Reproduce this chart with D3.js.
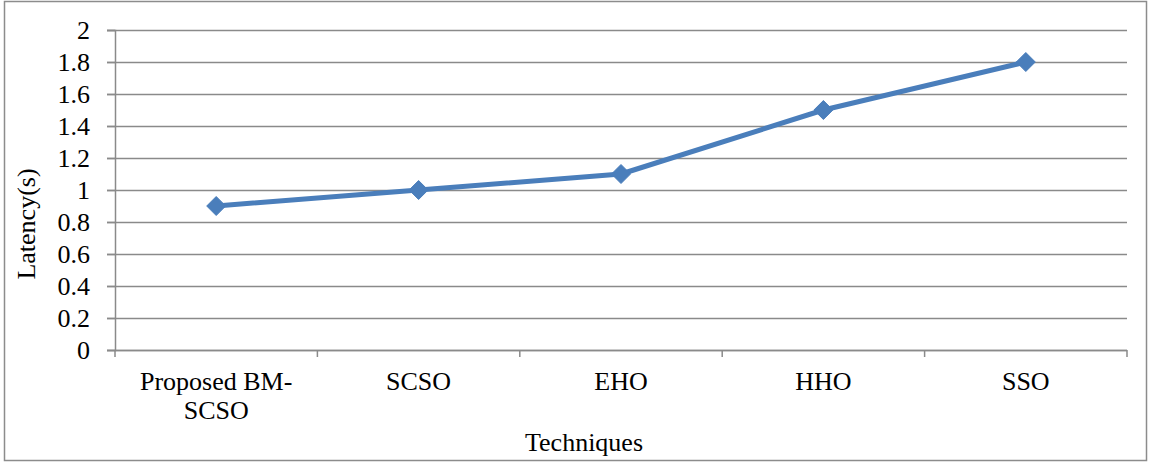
<!DOCTYPE html>
<html>
<head>
<meta charset="utf-8">
<script src="https://cdn.jsdelivr.net/npm/d3@7"></script>
<style>
  html, body { margin: 0; padding: 0; background: #fff; }
  svg { display: block; }
</style>
</head>
<body>
<svg id="chart" width="1150" height="463"></svg>
<script>
// Latency per technique
const techniques = ["Proposed BM-SCSO", "SCSO", "EHO", "HHO", "SSO"];
const latency = [0.9, 1.0, 1.1, 1.5, 1.8];
const yTicks = [0, 0.2, 0.4, 0.6, 0.8, 1, 1.2, 1.4, 1.6, 1.8, 2];

const FONT = "'Liberation Serif', 'Times New Roman', serif";
const FS = "26px";

const svg = d3.select("#chart");
const W = 1150, H = 463;
const plot = { left: 115, right: 1127, top: 30, bottom: 350 };

// Outer frame
svg.append("rect")
  .attr("x", 4.5).attr("y", 1.5)
  .attr("width", W - 8).attr("height", H - 4)
  .attr("fill", "none").attr("stroke", "#8c8c8c").attr("stroke-width", 1.5);

const x = d3.scaleBand().domain(techniques).range([plot.left, plot.right]).padding(0);
const y = d3.scaleLinear().domain([0, 2]).range([plot.bottom, plot.top]);

// Horizontal gridlines
svg.append("g").selectAll("line").data(yTicks).join("line")
  .attr("x1", plot.left - 8).attr("x2", plot.right)
  .attr("y1", d => Math.round(y(d)) + 0.5).attr("y2", d => Math.round(y(d)) + 0.5)
  .attr("stroke", "#8a8a8a").attr("stroke-width", 1.5);

// Y axis
const yAxis = svg.append("g")
  .attr("transform", `translate(${plot.left},0)`)
  .call(d3.axisLeft(y).tickValues(yTicks).tickSize(8).tickPadding(17).tickFormat(d3.format("~g")));
yAxis.select(".domain").attr("stroke", "#8a8a8a").attr("stroke-width", 1.5);
yAxis.selectAll(".tick line").attr("stroke", "#8a8a8a").attr("stroke-width", 1.5);
yAxis.selectAll("text")
  .style("font-family", FONT).style("font-size", FS).attr("fill", "#000");

// X axis with category boundary ticks
const xAxis = svg.append("g").attr("transform", `translate(0,${plot.bottom})`);
xAxis.append("line")
  .attr("x1", plot.left).attr("x2", plot.right)
  .attr("y1", 0.5).attr("y2", 0.5)
  .attr("stroke", "#8a8a8a").attr("stroke-width", 1.5);
const bounds = techniques.map(t => x(t)).concat([x(techniques[techniques.length - 1]) + x.bandwidth()]);
xAxis.selectAll("line.tk").data(bounds).join("line").attr("class", "tk")
  .attr("x1", d => d).attr("x2", d => d)
  .attr("y1", 0).attr("y2", 7)
  .attr("stroke", "#8a8a8a").attr("stroke-width", 1.5);

// Category labels (long name wraps onto two lines)
const labelLines = { "Proposed BM-SCSO": ["Proposed BM-", "SCSO"] };
techniques.forEach(t => {
  const cx = x(t) + x.bandwidth() / 2;
  const lines = labelLines[t] || [t];
  const tx = svg.append("text")
    .attr("x", cx).attr("y", 390)
    .attr("text-anchor", "middle")
    .style("font-family", FONT).style("font-size", FS).attr("fill", "#000");
  lines.forEach((l, i) => tx.append("tspan")
    .attr("x", cx)
    .attr("dy", i === 0 ? 0 : 29)
    .text(l));
});

// Axis titles
svg.append("text")
  .attr("x", 584).attr("y", 451)
  .attr("text-anchor", "middle")
  .style("font-family", FONT).style("font-size", FS).attr("fill", "#000")
  .text("Techniques");
svg.append("text")
  .attr("transform", `translate(35,224) rotate(-90)`)
  .attr("text-anchor", "middle")
  .style("font-family", FONT).style("font-size", FS).attr("fill", "#000")
  .text("Latency(s)");

// Series line
const pts = techniques.map((t, i) => [x(t) + x.bandwidth() / 2, y(latency[i])]);
svg.append("path")
  .attr("d", d3.line()(pts))
  .attr("fill", "none")
  .attr("stroke", "#4a7ebb")
  .attr("stroke-width", 5)
  .attr("stroke-linejoin", "round");

// Diamond markers
svg.append("g").selectAll("path").data(pts).join("path")
  .attr("transform", d => `translate(${d[0]},${d[1]})`)
  .attr("d", "M0,-9.5L9.5,0L0,9.5L-9.5,0Z")
  .attr("fill", "#4a7ebb")
  .attr("stroke", "#4a7ebb")
  .attr("stroke-width", 1);
</script>
</body>
</html>
